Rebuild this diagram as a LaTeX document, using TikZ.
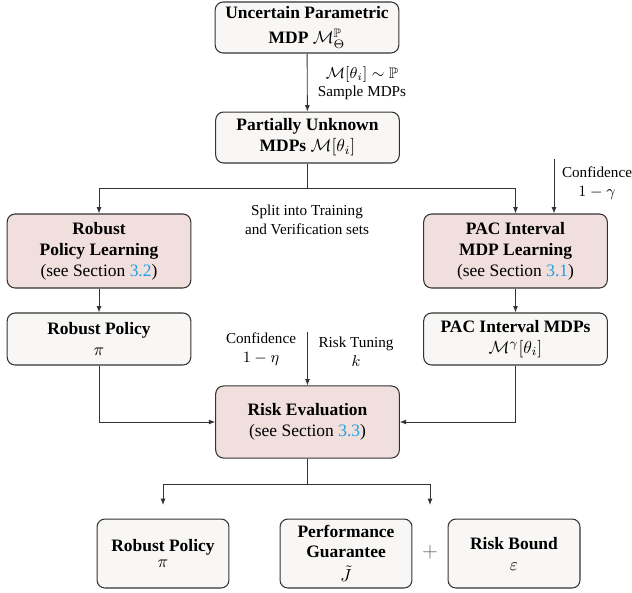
\documentclass[tikz,border=0pt]{standalone}
\usepackage{amsmath,amssymb}
\usepackage{fontspec}
\setmainfont{Liberation Serif}
\usetikzlibrary{arrows.meta}
\definecolor{boxgray}{RGB}{248,247,245}
\definecolor{boxpink}{RGB}{240,223,221}
\definecolor{linkblue}{RGB}{30,160,225}
\definecolor{edgec}{RGB}{51,51,51}
\begin{document}
\begin{tikzpicture}[x=0.573pt,y=-0.573pt,
  box/.style={draw=edgec, line width=0.6pt, rounded corners=4.5pt, fill=boxgray,
    align=center, inner sep=0pt, font=\bfseries},
  widebox/.style={box, minimum width=105.2pt},
  pinkbox/.style={widebox, fill=boxpink, minimum height=42.4pt},
  smallbox/.style={box, minimum width=75.6pt, minimum height=39.5pt},
  lbl/.style={align=center, inner sep=0pt, font=\fontsize{8.7}{11}\selectfont},
  conn/.style={draw=edgec, line width=0.5pt},
  arr/.style={conn, -{Latex[length=3.6pt,width=2.8pt]}}]
\useasboundingbox (0,0) rectangle (632,592);

% nodes
\node[widebox, minimum height=29.2pt] (ump) at (307,27.5)
  {Uncertain Parametric\\[2pt]MDP $\mathcal{M}_{\Theta}^{\mathbb{P}}$};
\node[widebox, minimum height=29.2pt] (pu) at (307.5,137.5)
  {Partially Unknown\\MDPs $\mathcal{M}[\theta_i]$};
\node[pinkbox] (rpl) at (99,251)
  {Robust\\Policy Learning\\\normalfont(see Section \textcolor{linkblue}{3.2})};
\node[pinkbox] (pac) at (515.5,251)
  {PAC Interval\\MDP Learning\\\normalfont(see Section \textcolor{linkblue}{3.1})};
\node[widebox, minimum height=29.8pt] (rp) at (99,339)
  {Robust Policy\\\normalfont$\pi$};
\node[widebox, minimum height=29.8pt] (pacm) at (515.5,339)
  {PAC Interval MDPs\\\normalfont$\mathcal{M}^{\gamma}[\theta_i]$};
\node[pinkbox, minimum height=41.3pt] (re) at (307.5,422)
  {Risk Evaluation\\\normalfont(see Section \textcolor{linkblue}{3.3})};
\node[smallbox] (brp) at (163,553.5)
  {Robust Policy\\[-3pt]\normalfont$\pi$};
\node[smallbox] (pg) at (346,553.5)
  {Performance\\[-1pt]Guarantee\\[2pt]\normalfont$\tilde{J}$};
\node[smallbox] (rb) at (514,553.5)
  {Risk Bound\\\normalfont$\varepsilon$};
\node[text=edgec!75, font=\large, inner sep=0pt] (plus) at (430,552) {$+$};

% labels
\node[lbl] (samplbl) at (362,83) {$\mathcal{M}[\theta_i]\sim\mathbb{P}$\\[-1pt]Sample MDPs};
\node[lbl] (splitlbl) at (307,220) {Split into Training\\and Verification sets};
\node[lbl] (cglbl) at (597,183) {Confidence\\$1-\gamma$};
\node[lbl] (celbl) at (261,349.5) {Confidence\\$1-\eta$};
\node[lbl] (rtlbl) at (356,352) {Risk Tuning\\$k$};

% coordinates
\coordinate (split) at (307.5,188);
\coordinate (cg) at (554,159);
\coordinate (ce) at (307.5,332);
\coordinate (bsplit) at (307.5,484);
\coordinate (bl) at (163,505);
\coordinate (br) at (430,505);

% connectors
\draw[arr] (ump) -- (pu);
\draw[conn] (pu) -- (split);
\draw[arr] (split) -| (rpl.north);
\draw[arr] (split) -| (pac.north);
\draw[arr] (cg) -- (cg |- pac.north);
\draw[arr] (rpl) -- (rp);
\draw[arr] (pac) -- (pacm);
\draw[arr] (rp.south) |- (re.west);
\draw[arr] (pacm.south) |- (re.east);
\draw[arr] (ce) -- (re.north);
\draw[conn] (re) -- (bsplit);
\draw[arr] (bsplit) -| (bl);
\draw[arr] (bsplit) -| (br);
\end{tikzpicture}
\end{document}
